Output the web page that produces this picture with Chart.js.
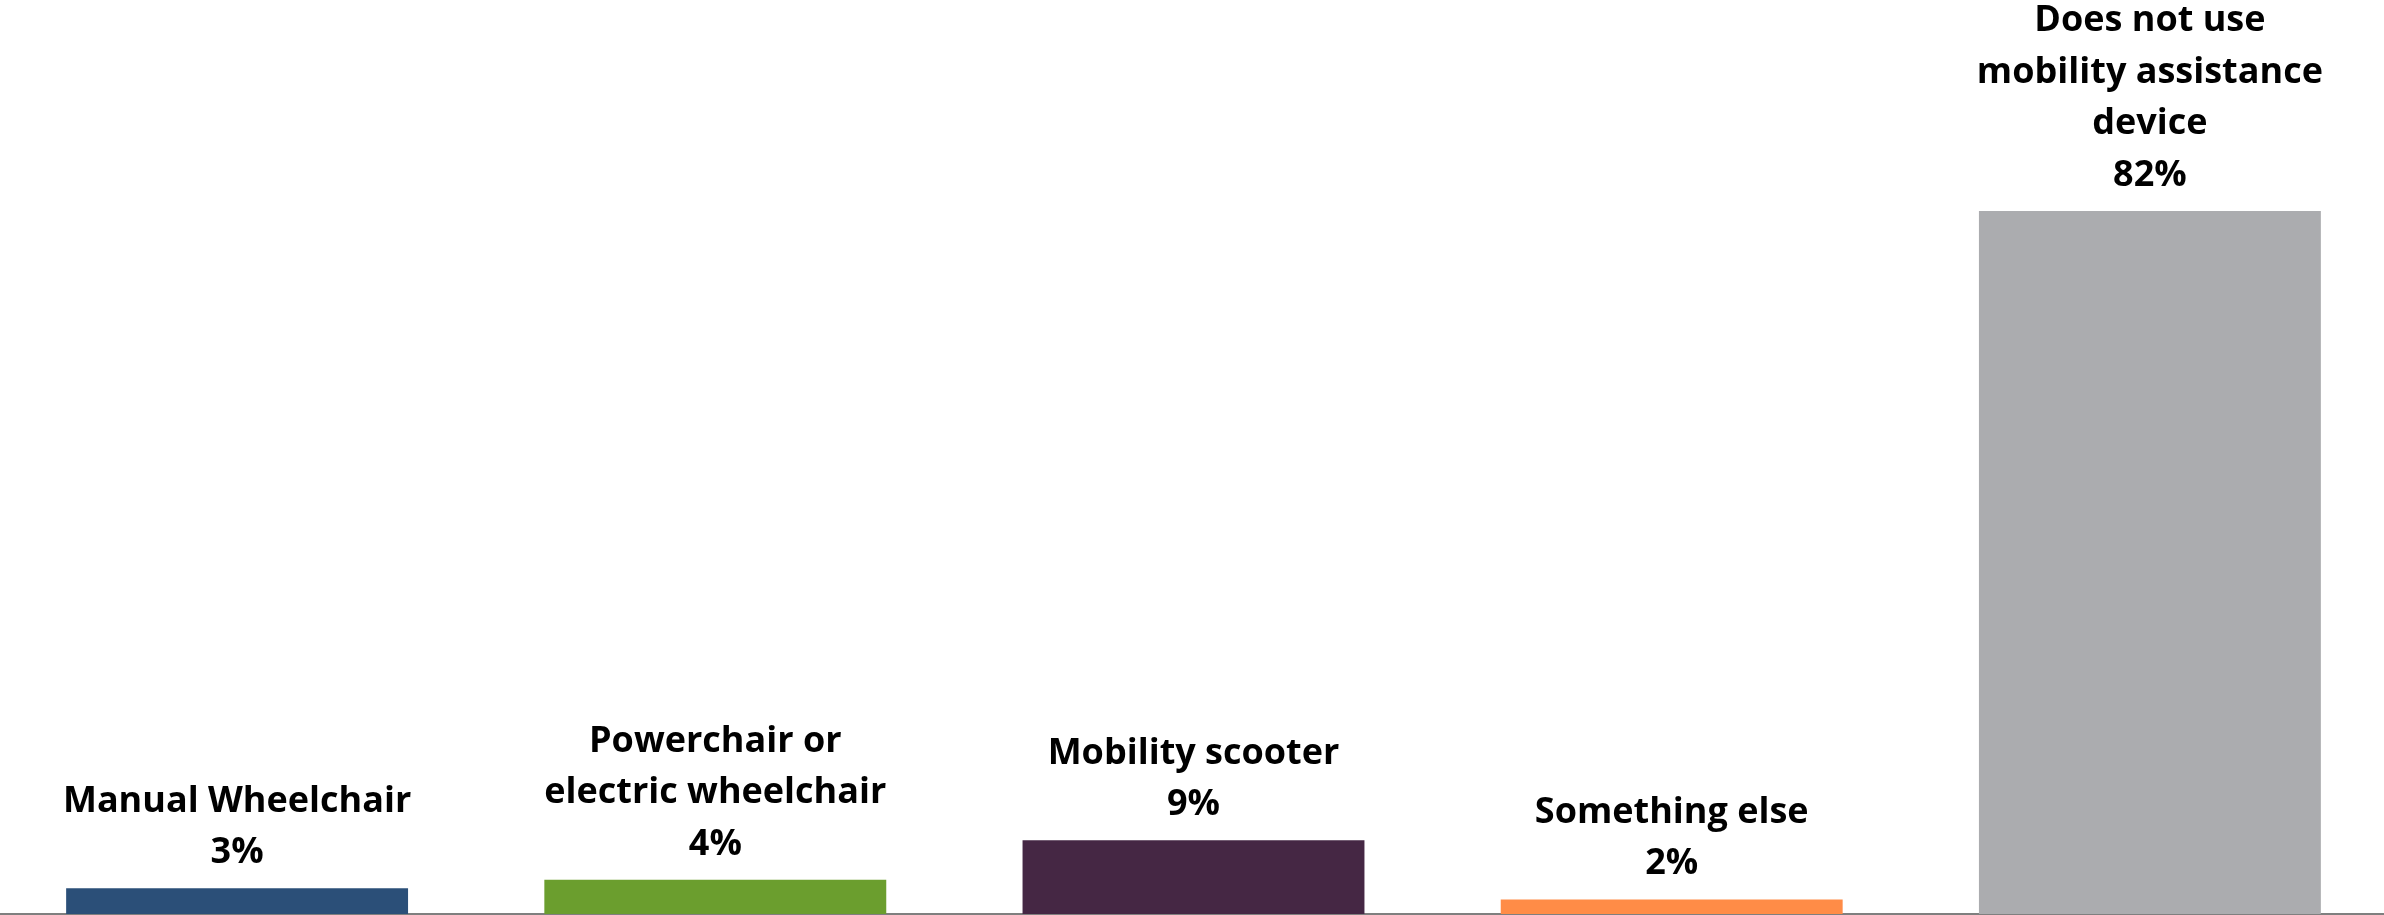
<!DOCTYPE html>
<html>
<head>
<meta charset="utf-8">
<script src="https://cdn.jsdelivr.net/npm/chart.js@4"></script>
<style>
  html, body { margin: 0; padding: 0; background: #fff; overflow: hidden; }
  #wrap { width: 2391px; height: 915px; margin-left: -2px; position: relative; }
</style>
</head>
<body>
<div id="wrap"><canvas id="barChart"></canvas></div>
<script>
const categories = [
    ['Manual Wheelchair'],
    ['Powerchair or', 'electric wheelchair'],
    ['Mobility scooter'],
    ['Something else'],
    ['Does not use', 'mobility assistance', 'device']
];
const shares = [3.0, 4.0, 8.6, 1.7, 82];
const barColors = ['#2B4F78', '#6B9E2E', '#452744', '#FF8C47', '#ABACAF'];

// labels above each bar: category lines then the percentage
const topLabels = {
    id: 'topLabels',
    afterDatasetsDraw(chart) {
        const ctx = chart.ctx;
        const meta = chart.getDatasetMeta(0);
        ctx.save();
        ctx.fillStyle = '#000';
        ctx.font = 'bold 36px "Open Sans"';
        ctx.textAlign = 'center';
        ctx.textBaseline = 'alphabetic';
        meta.data.forEach((bar, i) => {
            const lines = categories[i].concat([Math.round(shares[i]) + '%']);
            let y = bar.y - 25;
            for (let k = lines.length - 1; k >= 0; k--) {
                ctx.fillText(lines[k], bar.x, y);
                y -= 51.5;
            }
        });
        ctx.restore();
    }
};

const ctx1 = document.getElementById('barChart').getContext('2d');
const barChart = new Chart(ctx1, {
    type: 'bar',
    data: {
        labels: categories.map(c => c.join(' ')),
        datasets: [{
            data: shares,
            backgroundColor: barColors,
            borderWidth: 0,
            barPercentage: 0.715,
            categoryPercentage: 1
        }]
    },
    options: {
        responsive: true,
        maintainAspectRatio: false,
        animation: false,
        layout: { padding: 0 },
        plugins: {
            legend: { display: false },
            tooltip: { enabled: false }
        },
        scales: {
            x: {
                grid: { display: false },
                ticks: { display: false, padding: 0 },
                border: { display: true, color: '#7F7F7F', width: 3 },
                afterFit: scale => { scale.height = 1; }
            },
            y: {
                display: false,
                min: 0,
                max: 106.6
            }
        }
    },
    plugins: [topLabels]
});
</script>
</body>
</html>
